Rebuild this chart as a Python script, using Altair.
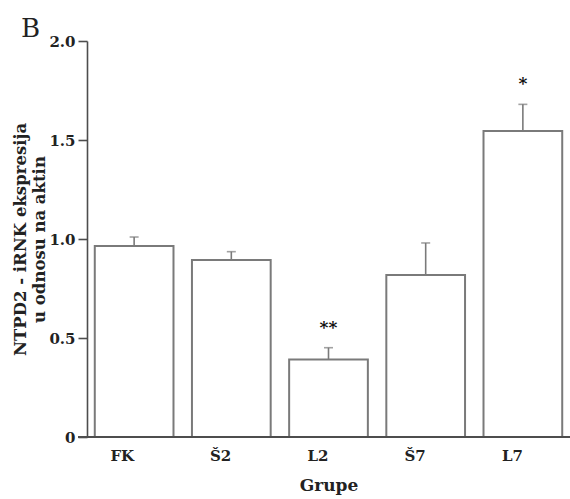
import altair as alt
import pandas as pd

groups = ["FK", "Š2", "L2", "Š7", "L7"]
means = [0.965, 0.894, 0.392, 0.818, 1.545]
err_top = [1.01, 0.936, 0.451, 0.98, 1.68]
stars = ["", "", "**", "", "*"]
panel_label = ["B"]

df = pd.DataFrame({"grupa": groups, "mean": means, "top": err_top, "star": stars})

FONT = "DejaVu Serif"
AX = "#4d4d4d"
BAR = "#7a7a7a"
W, H = 483, 396

x = alt.X("grupa:N", sort=groups,
          scale=alt.Scale(paddingInner=0.19, paddingOuter=0.08),
          axis=alt.Axis(title="Grupe", domain=False, ticks=False, labelAngle=0,
                        labelFont=FONT, labelFontWeight="bold", labelFontSize=15,
                        labelColor="#222", labelPadding=18,
                        titleFont=FONT, titleFontWeight="bold", titleFontSize=17,
                        titleColor="#222", titlePadding=14))
y = alt.Y("mean:Q", scale=alt.Scale(domain=[0, 2], nice=False),
          axis=alt.Axis(title=["NTPD2 - iRNK ekspresija", "u odnosu na aktin"],
                        values=[0, 0.5, 1.0, 1.5, 2.0],
                        labelExpr="datum.value == 0 ? '0' : format(datum.value, '.1f')",
                        grid=False, domainColor=AX, domainWidth=1.6,
                        tickColor=AX, tickWidth=1.6, tickSize=9,
                        labelFont=FONT, labelFontWeight="bold", labelFontSize=15,
                        labelColor="#222", labelPadding=3,
                        titleFont=FONT, titleFontWeight="bold", titleFontSize=16.5,
                        titleColor="#222", titlePadding=1, titleLineHeight=19))

base = alt.Chart(df)

rules = base.mark_rule(color=BAR, strokeWidth=1.6).encode(
    x=alt.X("grupa:N", sort=groups), y="mean:Q", y2="top:Q")
caps = base.mark_tick(color=BAR, thickness=1.6, size=9).encode(
    x=alt.X("grupa:N", sort=groups), y="top:Q")
bars = base.mark_bar(fill="white", stroke=BAR, strokeWidth=2).encode(x=x, y=y)
txt = base.mark_text(font=FONT, fontWeight="bold", fontSize=17, dy=-20,
                     baseline="middle", color="#111").encode(
    x=alt.X("grupa:N", sort=groups), y="top:Q", text="star:N")
baseline = alt.Chart(df).mark_rule(color=AX, strokeWidth=1.8).encode(
    y=alt.datum(0), x=alt.value(-9), x2=alt.value(W))
label_b = alt.Chart(pd.DataFrame({"t": panel_label})).mark_text(
    font=FONT, fontSize=26, align="left", baseline="alphabetic", color="#222").encode(
    text="t:N", x=alt.value(-66), y=alt.value(-4))

chart = alt.layer(rules, bars, caps, txt, baseline, label_b).properties(
    width=W, height=H,
    autosize=alt.AutoSizeParams(type="none"),
    padding={"left": 87, "top": 41, "right": 0, "bottom": 62},
).configure_view(stroke=None)

chart.save("out.html", embed_options={"renderer": "svg", "actions": False})
